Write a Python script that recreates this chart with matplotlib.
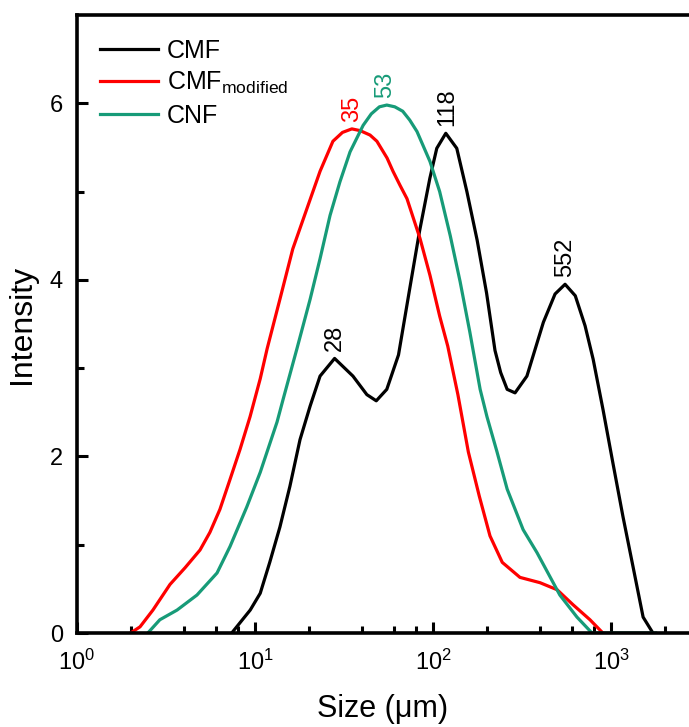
import math
import matplotlib
matplotlib.use("Agg")
import matplotlib.pyplot as plt
from matplotlib.ticker import LogLocator, FixedLocator, NullFormatter, FuncFormatter

plt.rcParams['font.family'] = ['Liberation Sans', 'DejaVu Sans']
plt.rcParams['mathtext.fontset'] = 'custom'
plt.rcParams['mathtext.rm'] = 'Liberation Sans'
plt.rcParams['mathtext.it'] = 'Liberation Sans:italic'

# CMF
cmf_size = [7.4, 9.4, 10.7, 12.1, 13.8, 15.7, 17.9, 20.4, 23.2, 28, 35.5, 42.5, 48, 55,
            64, 74, 84, 96, 105, 118, 136, 155, 177, 200, 223, 240, 261, 289, 337, 417,
            485, 552, 630, 715, 794, 902, 1024, 1167, 1330, 1515, 1720]
cmf_int = [0, 0.26, 0.45, 0.8, 1.2, 1.66, 2.19, 2.57, 2.91, 3.11, 2.91, 2.7, 2.63, 2.76,
           3.15, 3.9, 4.55, 5.15, 5.49, 5.66, 5.49, 5.0, 4.45, 3.85, 3.2, 2.95, 2.76, 2.72,
           2.91, 3.52, 3.84, 3.95, 3.82, 3.48, 3.1, 2.53, 1.93, 1.32, 0.75, 0.18, 0]

# CMF modified
mod_size = [2.0, 2.26, 2.67, 3.33, 4.05, 4.91, 5.58, 6.35, 7.24, 8.24, 9.38, 10.7, 11.7,
            13.8, 16.3, 19.6, 23.2, 27.4, 31, 35, 39, 44.3, 48.4, 55.2, 59.6, 65.3, 71.4,
            84.5, 96.2, 109, 121, 138, 158, 182, 209, 245, 308, 399, 498, 612, 762, 900]
mod_int = [0, 0.07, 0.26, 0.55, 0.74, 0.94, 1.14, 1.40, 1.74, 2.08, 2.45, 2.88, 3.22,
           3.78, 4.35, 4.81, 5.23, 5.57, 5.67, 5.71, 5.69, 5.64, 5.57, 5.38, 5.23, 5.07, 4.92,
           4.47, 4.05, 3.59, 3.25, 2.7, 2.05, 1.55, 1.1, 0.8, 0.63, 0.57, 0.49, 0.32, 0.15, 0]

# CNF
cnf_size = [2.5, 2.92, 3.65, 4.72, 6.12, 7.24, 9.0, 10.7, 13.3, 14.4, 17.2, 20.4, 23.2,
            26.4, 30, 34.2, 40.5, 45, 50, 55, 61, 67.6, 74, 81.3, 96.2, 109, 125, 142, 161,
            184, 201, 229, 261, 321, 384, 516, 644, 782, 1000, 1500, 1780]
cnf_int = [0, 0.15, 0.26, 0.43, 0.68, 0.98, 1.43, 1.82, 2.39, 2.65, 3.22, 3.78, 4.24,
           4.73, 5.11, 5.45, 5.75, 5.88, 5.96, 5.98, 5.96, 5.91, 5.81, 5.68, 5.34, 5.0, 4.5,
           3.98, 3.41, 2.76, 2.45, 2.05, 1.63, 1.17, 0.91, 0.43, 0.18, 0, 0, 0, 0]

# peak labels: (size, intensity, text, colour)
peaks = [(28, 3.11, "28", "black"), (35, 5.71, "35", "#ff0000"),
         (54, 5.98, "53", "#179b78"), (120, 5.66, "118", "black"),
         (552, 3.95, "552", "black")]

fig = plt.figure(figsize=(6.89, 7.27), dpi=100)
ax = fig.add_axes([77 / 689, 1 - 633 / 727, 1 - 77 / 689, (633 - 15) / 727])

ax.plot(cmf_size, cmf_int, color="black", lw=2.3, label="CMF")
ax.plot(mod_size, mod_int, color="#ff0000", lw=2.3, label=r"CMF$_{\mathrm{modified}}$")
ax.plot(cnf_size, cnf_int, color="#179b78", lw=2.3, label="CNF")

for x, y, txt, c in peaks:
    ax.annotate(txt, (x, y), xytext=(0, 5), textcoords="offset points",
                rotation=90, ha="center", va="bottom", color=c, fontsize=17)

ax.set_xscale("log")
ax.set_xlim(1, 10 ** ((689 - 77) / 178))
ax.set_ylim(0, 7.0)

ax.xaxis.set_major_locator(LogLocator(base=10, numticks=10))
ax.xaxis.set_minor_locator(LogLocator(base=10, subs=(2, 4, 6, 8), numticks=10))
ax.xaxis.set_minor_formatter(NullFormatter())
ax.xaxis.set_major_formatter(FuncFormatter(lambda v, p: r"$\mathrm{10^{%d}}$" % round(math.log10(v))))
ax.yaxis.set_major_locator(FixedLocator([0, 2, 4, 6]))
ax.yaxis.set_minor_locator(FixedLocator([1, 3, 5]))

ax.tick_params(which="both", direction="in", width=2.2, labelsize=17, top=False, right=False)
ax.tick_params(which="major", length=8)
ax.tick_params(axis="x", which="major", pad=12)
ax.tick_params(axis="y", which="major", pad=10)
ax.tick_params(which="minor", length=5)
for s in ["left", "bottom", "top"]:
    ax.spines[s].set_linewidth(2.6)
ax.spines["right"].set_visible(False)

ax.set_xlabel("Size (\u03bcm)", fontsize=22, labelpad=14)
ax.set_ylabel("Intensity", fontsize=23, labelpad=9)

ax.legend(loc="upper left", bbox_to_anchor=(0.0, 0.998), frameon=False, fontsize=18,
          handlelength=2.35, handletextpad=0.35, labelspacing=0.3, borderaxespad=0.5)

fig.savefig("out.png", dpi=100)
